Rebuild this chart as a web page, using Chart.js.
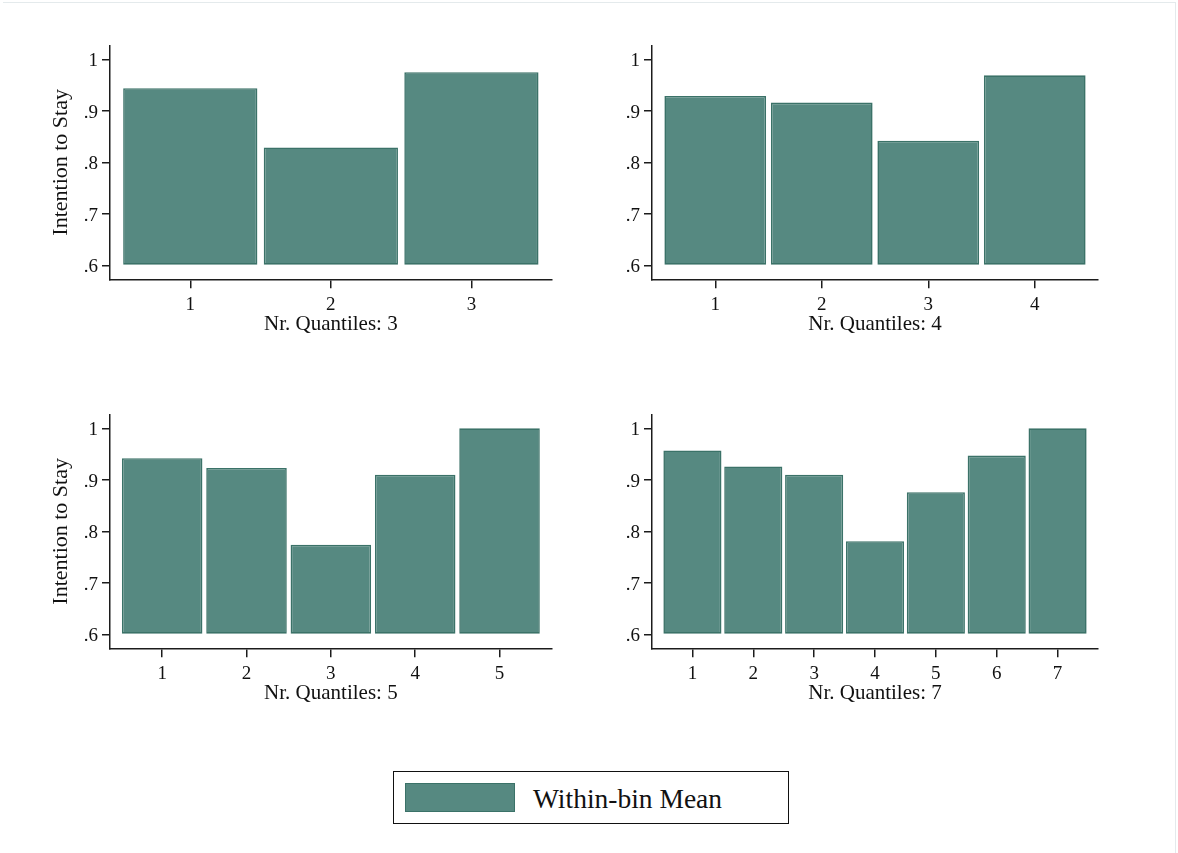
<!DOCTYPE html>
<html>
<head>
<meta charset="utf-8">
<title>Intention to Stay by quantile</title>
<script src="https://cdn.jsdelivr.net/npm/chart.js@4.4.1/dist/chart.umd.min.js"></script>
<style>
  html, body { margin: 0; padding: 0; background: #fff; }
  #page { position: relative; width: 1178px; height: 853px; overflow: hidden; background: #fff; }
  #frame {
    position: absolute; left: 3px; top: 2px; width: 1172px; height: 860px;
    border-top: 1.5px solid #e4eaec; border-right: 1.5px solid #e4eaec;
  }
  canvas { position: absolute; }
  #legend {
    position: absolute; left: 393px; top: 771px; width: 394px; height: 51px;
    border: 1.5px solid #111; box-sizing: content-box;
  }
  #legend .swatch {
    position: absolute; left: 11px; top: 11px; width: 108px; height: 27px;
    background: #568981; border: 1.5px solid #3b7268;
  }
  #legend .label {
    position: absolute; left: 139px; top: 11px; line-height: 27px;
    font: 27.5px "Liberation Serif", "Times New Roman", serif; color: #111; white-space: nowrap;
  }
</style>
</head>
<body>
<div id="page">
  <div id="frame"></div>
  <canvas id="q3" width="560" height="310" style="left:10px; top:30px;"></canvas>
  <canvas id="q4" width="560" height="310" style="left:552px; top:30px;"></canvas>
  <canvas id="q5" width="560" height="310" style="left:10px; top:399px;"></canvas>
  <canvas id="q7" width="560" height="310" style="left:552px; top:399px;"></canvas>
  <div id="legend"><span class="swatch"></span><span class="label"></span></div>
</div>
<script>
// bin labels and within-bin means for each quantile split
const quantiles3 = ["1", "2", "3"];
const means3 = [0.944, 0.829, 0.975];

const quantiles4 = ["1", "2", "3", "4"];
const means4 = [0.929, 0.916, 0.842, 0.969];

const quantiles5 = ["1", "2", "3", "4", "5"];
const means5 = [0.942, 0.923, 0.774, 0.910, 1.0];

const quantiles7 = ["1", "2", "3", "4", "5", "6", "7"];
const means7 = [0.957, 0.926, 0.910, 0.781, 0.876, 0.947, 1.0];

const yTicks = [0.6, 0.7, 0.8, 0.9, 1];
const yTickLabels = [".6", ".7", ".8", ".9", "1"];
const barBase = 0.6;

const seriesLabel = "Within-bin Mean";
const yTitle = "Intention to Stay";
const xTitlePrefix = "Nr. Quantiles: ";

// look
const SERIF = '"Liberation Serif", "Times New Roman", serif';
const BAR_FILL = "#568981";
const BAR_EDGE = "#3b7268";
const AXIS = "#1c1c1c";
const Y_MIN = 0.573;
const Y_MAX = 1.027;
const EDGE_PX = 10; // gap between outer bars and the axis ends

Chart.defaults.color = "#111";
Chart.defaults.font.family = SERIF;

function makePanel(id, quantiles, means, showYTitle, padRight) {
  const n = quantiles.length;
  const plotWidth = 560 - 100 - padRight;
  const pad = (EDGE_PX * n) / (plotWidth - 2 * EDGE_PX);

  return new Chart(document.getElementById(id), {
    type: "bar",
    data: {
      datasets: [
        {
          label: seriesLabel,
          data: means.map((v, i) => ({ x: Number(quantiles[i]), y: v })),
          base: barBase,
          backgroundColor: BAR_FILL,
          borderColor: BAR_EDGE,
          borderWidth: 1.6,
          borderSkipped: false,
          categoryPercentage: 1,
          barPercentage: 0.955,
        },
      ],
    },
    options: {
      responsive: false,
      animation: false,
      devicePixelRatio: 1,
      events: [],
      layout: { padding: { left: 0, right: padRight, top: 15, bottom: 2.7 } },
      plugins: { legend: { display: false }, tooltip: { enabled: false } },
      scales: {
        x: {
          type: "linear",
          min: 0.5 - pad,
          max: n + 0.5 + pad,
          offset: false,
          afterBuildTicks: (s) => {
            s.ticks = quantiles.map((q) => ({ value: Number(q) }));
          },
          afterFit: (s) => {
            s.height = 58;
          },
          grid: {
            offset: false,
            drawOnChartArea: false,
            tickLength: 9,
            color: AXIS,
            lineWidth: 1.5,
          },
          border: { display: true, color: AXIS, width: 1.5 },
          ticks: {
            callback: (v, i) => quantiles[i],
            padding: 5,
            autoSkip: false,
            maxRotation: 0,
            font: { size: 19 },
          },
          title: {
            display: true,
            text: xTitlePrefix + n,
            padding: 0,
            font: { size: 21 },
          },
        },
        y: {
          min: Y_MIN,
          max: Y_MAX,
          beginAtZero: false,
          afterBuildTicks: (s) => {
            s.ticks = yTicks.map((v) => ({ value: v }));
          },
          afterFit: (s) => {
            s.width = 100;
          },
          grid: {
            drawOnChartArea: false,
            tickLength: 8,
            color: AXIS,
            lineWidth: 1.5,
          },
          border: { display: true, color: AXIS, width: 1.5 },
          ticks: {
            callback: (v, i) => yTickLabels[i],
            padding: 4,
            labelOffset: 2,
            font: { size: 19 },
          },
          title: {
            display: showYTitle,
            text: yTitle,
            padding: { top: 38, bottom: 0 },
            font: { size: 22 },
          },
        },
      },
    },
  });
}

makePanel("q3", quantiles3, means3, true, 18.3);
makePanel("q4", quantiles4, means4, false, 14);
makePanel("q5", quantiles5, means5, true, 18.3);
makePanel("q7", quantiles7, means7, false, 14);

document.querySelector("#legend .label").textContent = seriesLabel;
</script>
</body>
</html>
